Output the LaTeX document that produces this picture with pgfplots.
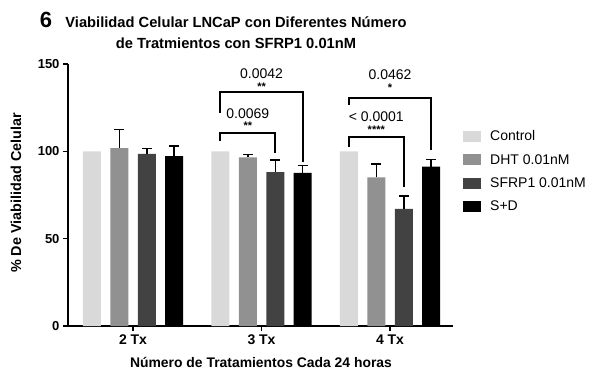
\documentclass[border=0pt]{standalone}
\usepackage{fontspec}
\setmainfont{Liberation Sans}
\usepackage{pgfplots}
\pgfplotsset{compat=1.18}
\definecolor{cctl}{gray}{0.85}
\definecolor{cdht}{gray}{0.57}
\definecolor{csf}{gray}{0.26}
\definecolor{csd}{gray}{0}
\newcommand{\fs}[1]{\fontsize{#1bp}{#1bp}\selectfont}
\tikzset{
  ann/.style={font=\fs{14}, inner sep=0.5bp},
  star/.style={font=\bfseries\fs{11}, inner sep=0.5bp},
}
\begin{document}
\begin{tikzpicture}
\useasboundingbox (-68bp,-53bp) rectangle (522bp,326bp);
\begin{axis}[
  scale only axis, width=385bp, height=262bp,
  xmin=-0.506, xmax=2.49, ymin=0, ymax=150,
  axis lines=left, axis line style={line width=1.9bp, -},
  ytick={0,50,100,150}, xtick={0,1,2}, xticklabels={2 Tx,3 Tx,4 Tx},
  tick align=outside, major tick length=5bp,
  tick style={black, line width=1.6bp},
  /pgf/number format/assume math mode=true,
  yticklabel style={font=\bfseries\fs{13}},
  xticklabel style={font=\bfseries\fs{14}},
  mybar/.style={ybar, bar width=0.14, bar shift=0pt, draw=none,
    legend image code/.code={\fill[##1] (0bp,-5.5bp) rectangle (18bp,5.5bp); \path (25bp,0bp);}},
  err/.style={error bars/.cd, y dir=plus, y explicit,
    error bar style={draw=black, line width=1.5bp},
    error mark options={draw=black, rotate=90, mark size=5bp, line width=1.5bp}},
  legend style={at={(1.026,0.59)}, anchor=west, draw=none, fill=none,
    font=\fs{14}, row sep=8bp, inner sep=0pt},
  legend cell align=left,
]
\addplot[mybar, fill=cctl] coordinates {(-0.32,100) (0.68,100) (1.68,100)};
\addplot[mybar, fill=cdht, err] coordinates {(-0.107,101.9) +- (0,10.7) (0.893,96.6) +- (0,1.7) (1.893,85.1) +- (0,7.6)};
\addplot[mybar, fill=csf, err] coordinates {(0.107,98.6) +- (0,3.1) (1.107,88.1) +- (0,6.9) (2.107,67.1) +- (0,7.3)};
\addplot[mybar, fill=csd, err] coordinates {(0.32,97.3) +- (0,5.7) (1.32,87.6) +- (0,4.4) (2.32,91.2) +- (0,4.2)};
\legend{Control, DHT 0.01nM, SFRP1 0.01nM, S+D}
% significance brackets
\addplot[black, line width=2bp, no marks, sharp plot, forget plot] coordinates {(0.68,106) (0.68,110.3) (1.107,110.3) (1.107,98.9)};
\addplot[black, line width=2bp, no marks, sharp plot, forget plot] coordinates {(0.68,122.1) (0.68,133.8) (1.32,133.8) (1.32,94.1)};
\addplot[black, line width=2bp, no marks, sharp plot, forget plot] coordinates {(1.68,102.6) (1.68,108) (2.107,108) (2.107,79.7)};
\addplot[black, line width=2bp, no marks, sharp plot, forget plot] coordinates {(1.68,126.5) (1.68,130.3) (2.32,130.3) (2.32,100.5)};
\node[ann] at (axis cs:0.893,121.6) {0.0069};
\node[star] at (axis cs:0.893,114.6) {**};
\node[ann] at (axis cs:1.0,144.4) {0.0042};
\node[star] at (axis cs:1.0,136.8) {**};
\node[ann] at (axis cs:1.893,120.1) {< 0.0001};
\node[star] at (axis cs:1.893,112.1) {****};
\node[ann] at (axis cs:2.0,144.0) {0.0462};
\node[star] at (axis cs:2.0,136.4) {*};
\end{axis}
\node[font=\bfseries\fs{22}] at (-22bp,306bp) {6};
\node[font=\bfseries\fs{14.7}, align=center, text depth=0pt] at (168bp,293.5bp) {Viabilidad Celular LNCaP con Diferentes Número\\[6bp]de Tratmientos con SFRP1 0.01nM};
\node[font=\bfseries\fs{13.9}] at (193bp,-36bp) {Número de Tratamientos Cada 24 horas};
\node[font=\bfseries\fs{14.4}, rotate=90] at (-52bp,133bp) {\% De Viabilidad Celular};
\end{tikzpicture}
\end{document}
